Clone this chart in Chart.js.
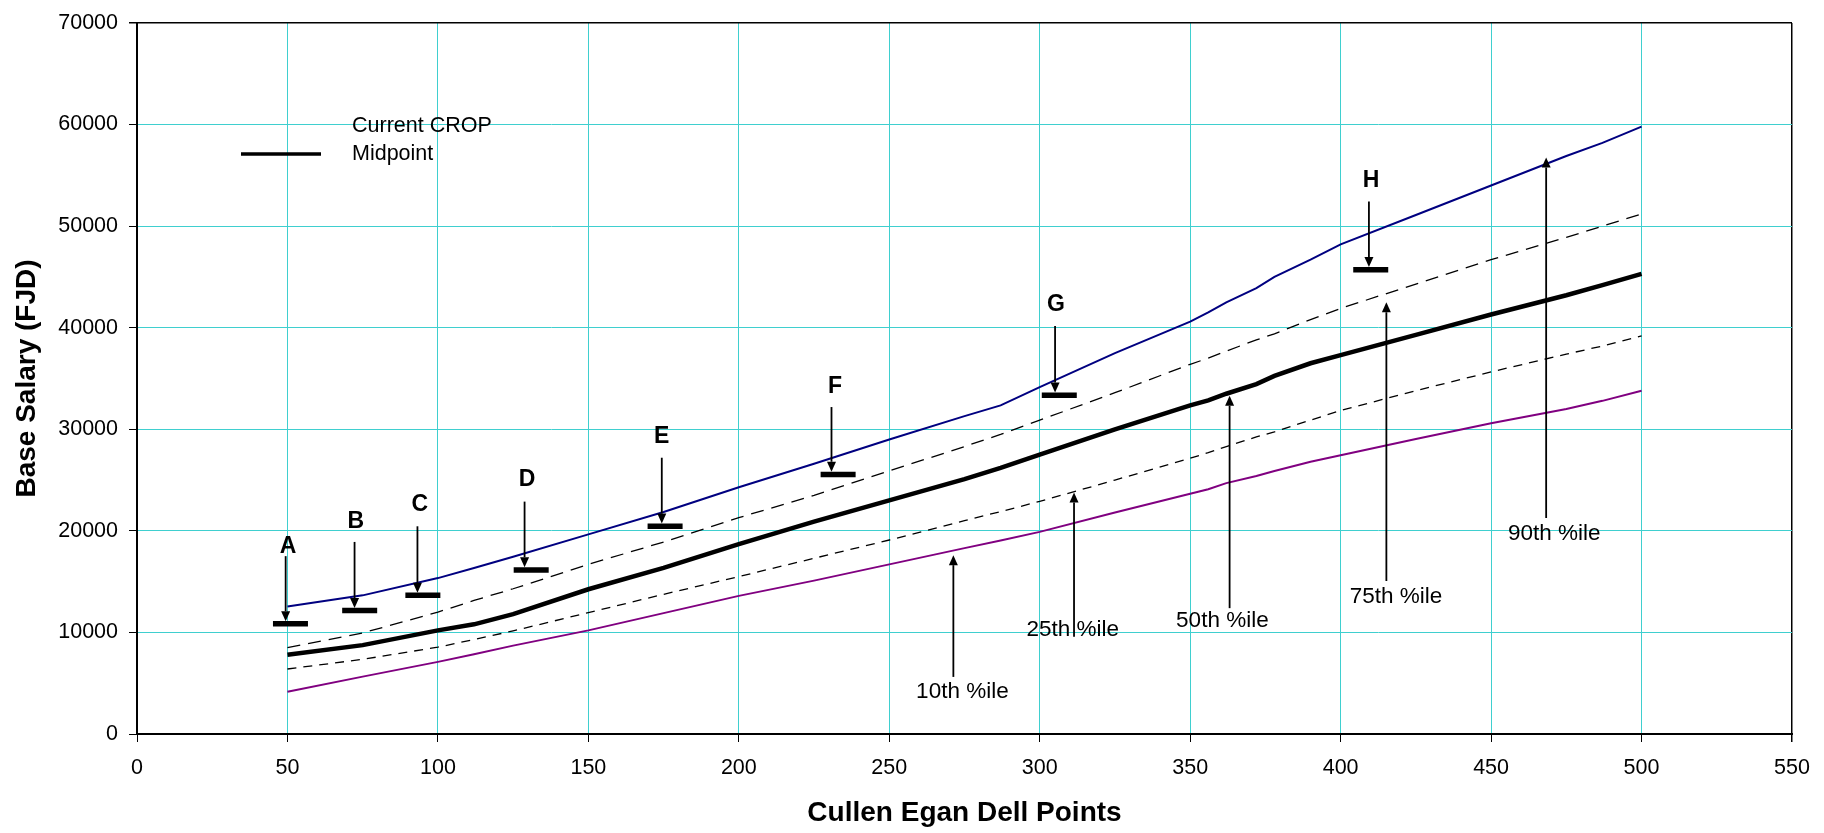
<!DOCTYPE html>
<html>
<head>
<meta charset="utf-8">
<title>Base Salary vs Cullen Egan Dell Points</title>
<script src="https://cdn.jsdelivr.net/npm/chart.js@4.4.1/dist/chart.umd.min.js"></script>
<style>
  html, body { margin: 0; padding: 0; background: #fff; }
  #wrap { width: 1824px; height: 833px; }
</style>
</head>
<body>
<div id="wrap"><canvas id="salaryChart" width="1824" height="833"></canvas></div>
<script>
/* ==========================
   DATA
========================== */
const points = [50, 75, 100, 112, 125, 150, 175, 200, 225, 250, 275, 287, 300, 325, 350, 356, 362, 372, 378, 390, 400, 425, 450, 475, 487, 500];

const p90 = [12550, 13650, 15350, 16350, 17450, 19650, 21850, 24300, 26600, 29000, 31300, 32350, 34150, 37500, 40600, 41500, 42500, 43900, 45000, 46700, 48200, 51100, 54000, 56900, 58200, 59800];
const p75 = [8500, 9950, 12000, 13150, 14300, 16700, 18900, 21300, 23500, 25900, 28300, 29500, 30900, 33600, 36400, 37000, 37700, 38800, 39400, 40800, 41900, 44300, 46700, 48900, 50000, 51200];
const p50 = [7800, 8750, 10200, 10800, 11800, 14250, 16350, 18700, 20900, 23000, 25100, 26200, 27500, 30000, 32350, 32850, 33500, 34450, 35250, 36500, 37300, 39300, 41300, 43200, 44200, 45300];
const p25 = [6400, 7350, 8550, 9300, 10150, 11950, 13750, 15500, 17300, 19100, 21000, 21900, 22900, 25000, 27150, 27700, 28300, 29250, 29750, 30900, 31850, 33800, 35650, 37400, 38200, 39200];
const p10 = [4150, 5650, 7100, 7850, 8700, 10200, 11900, 13600, 15100, 16700, 18300, 19050, 19900, 21800, 23650, 24100, 24700, 25400, 25900, 26800, 27450, 29050, 30600, 32000, 32800, 33800];

/* current CROP midpoints (grades A..H) */
const cropNames = ["A", "B", "C", "D", "E", "F", "G", "H"];
const cropX = [51, 74, 95, 131, 175.5, 233, 306.5, 410];
const cropY = [10850, 12150, 13650, 16150, 20450, 25550, 33350, 45700];

const xTicks = { min: 0, max: 550, step: 50 };
const yTicks = { min: 0, max: 70000, step: 10000 };

/* ==========================
   ANNOTATIONS (data coords)
========================== */
const letterX = [50.2, 72.7, 94, 129.6, 174.4, 232, 305.4, 410.1];
const letterY = [18400, 20940, 22570, 25050, 29260, 34150, 42300, 54470];
const letterArrowX = [49.4, 72.3, 93.2, 128.8, 174.4, 230.8, 305.1, 409.4];
const letterArrowFrom = [17510, 18910, 20450, 22880, 27200, 32190, 40180, 52420];
const letterArrowTo = [11100, 12400, 13900, 16420, 20720, 25820, 33620, 45970];

const pctNames = ["10th %ile", "25th %ile", "50th %ile", "75th %ile", "90th %ile"];
const pctLabelX = [274.3, 311, 360.7, 418.4, 471];
const pctLabelY = [4150, 10290, 11100, 13530, 19700];
const pctArrowX = [271.3, 311.4, 363.1, 415.2, 468.3];
const pctArrowFrom = [5620, 9580, 12390, 15070, 21260];
const pctArrowTo = [17610, 23770, 33300, 42500, 56750];

/* ==========================
   STYLE
========================== */
const FONT = 'Arial, "Liberation Sans", Helvetica, sans-serif';
const GRID = "#3fcfcf";

Chart.defaults.font.family = FONT;
Chart.defaults.color = "#000";

const toXY = (xs, ys) => xs.map((x, i) => ({ x: x, y: ys[i] }));

function drawArrow(ctx, x, y1, y2) {
  const dir = y2 > y1 ? 1 : -1;
  const head = 10, half = 4.5;
  ctx.beginPath();
  ctx.moveTo(x, y1);
  ctx.lineTo(x, y2 - dir * head);
  ctx.stroke();
  ctx.beginPath();
  ctx.moveTo(x, y2);
  ctx.lineTo(x - half, y2 - dir * head);
  ctx.lineTo(x + half, y2 - dir * head);
  ctx.closePath();
  ctx.fill();
}

/* arrows + labels */
const annotatePlugin = {
  id: "annotate",
  afterDatasetsDraw(chart) {
    const { ctx, scales: { x, y } } = chart;
    ctx.save();
    ctx.strokeStyle = "#000";
    ctx.fillStyle = "#000";
    ctx.lineWidth = 1.8;

    letterX.forEach((lx, i) => {
      const ax = x.getPixelForValue(letterArrowX[i]);
      drawArrow(ctx, ax, y.getPixelForValue(letterArrowFrom[i]), y.getPixelForValue(letterArrowTo[i]));
    });
    pctNames.forEach((n, i) => {
      const ax = x.getPixelForValue(pctArrowX[i]);
      drawArrow(ctx, ax, y.getPixelForValue(pctArrowFrom[i]), y.getPixelForValue(pctArrowTo[i]));
    });

    ctx.textAlign = "center";
    ctx.textBaseline = "middle";
    ctx.font = "bold 23px " + FONT;
    cropNames.forEach((n, i) => {
      ctx.fillText(n, x.getPixelForValue(letterX[i]), y.getPixelForValue(letterY[i]));
    });
    ctx.font = "22.5px " + FONT;
    pctNames.forEach((n, i) => {
      ctx.fillText(n, x.getPixelForValue(pctLabelX[i]), y.getPixelForValue(pctLabelY[i]));
    });
    ctx.restore();
  }
};

/* legend box inside the plot */
const legendPlugin = {
  id: "cropLegend",
  afterDraw(chart) {
    const { ctx, chartArea: a } = chart;
    ctx.save();
    ctx.strokeStyle = "#000";
    ctx.lineWidth = 3.7;
    ctx.beginPath();
    ctx.moveTo(a.left + 104, a.top + 131);
    ctx.lineTo(a.left + 184, a.top + 131);
    ctx.stroke();
    ctx.fillStyle = "#000";
    ctx.font = "21.5px " + FONT;
    ctx.textAlign = "left";
    ctx.textBaseline = "middle";
    ctx.fillText("Current CROP", a.left + 215, a.top + 103);
    ctx.fillText("Midpoint", a.left + 215, a.top + 131);
    ctx.restore();
  }
};

/* ==========================
   CHART
========================== */
const lineDs = (label, ys, color, width, dash) => ({
  label: label,
  data: toXY(points, ys),
  borderColor: color,
  borderWidth: width,
  borderDash: dash || [],
  pointRadius: 0,
  tension: 0,
  fill: false
});

new Chart(document.getElementById("salaryChart"), {
  type: "line",
  data: {
    datasets: [
      lineDs("90th %ile", p90, "#000080", 2),
      lineDs("75th %ile", p75, "#000", 1.3, [13, 8]),
      lineDs("25th %ile", p25, "#000", 1.3, [9, 7]),
      lineDs("10th %ile", p10, "#800080", 2),
      lineDs("50th %ile", p50, "#000", 4.5),
      {
        label: "Current CROP Midpoint",
        data: toXY(cropX, cropY),
        showLine: false,
        pointStyle: "line",
        pointRadius: 17.5,
        pointHoverRadius: 17.5,
        pointBorderWidth: 5.5,
        borderColor: "#000",
        backgroundColor: "#000"
      }
    ]
  },
  options: {
    responsive: false,
    animation: false,
    devicePixelRatio: 1,
    layout: { padding: { left: 0, right: 32, top: 18, bottom: 0 } },
    plugins: {
      legend: { display: false },
      tooltip: { enabled: false }
    },
    scales: {
      x: {
        type: "linear",
        min: xTicks.min,
        max: xTicks.max,
        ticks: {
          stepSize: xTicks.step,
          padding: 13,
          font: { size: 21.5 },
          color: "#000",
          callback: v => v
        },
        grid: {
          color: c => (c.tick && c.tick.value === xTicks.max ? "#000" : GRID),
          lineWidth: c => (c.tick && c.tick.value === xTicks.max ? 1.5 : 1),
          tickColor: "#000",
          tickLength: 8
        },
        border: { color: "#000", width: 2 },
        title: {
          display: true,
          text: "Cullen Egan Dell Points",
          font: { size: 28, weight: "bold" },
          padding: { top: 0, bottom: 3 }
        },
        afterFit(s) {
          s.height = 99;
          s.paddingLeft = 0;
          s.paddingRight = 0;
        }
      },
      y: {
        type: "linear",
        min: yTicks.min,
        max: yTicks.max,
        ticks: {
          stepSize: yTicks.step,
          padding: 11,
          font: { size: 21.5 },
          color: "#000",
          callback: v => v
        },
        grid: {
          color: c => (c.tick && c.tick.value === yTicks.max ? "#000" : GRID),
          lineWidth: c => (c.tick && c.tick.value === yTicks.max ? 1.5 : 1),
          tickColor: "#000",
          tickLength: 8
        },
        border: { color: "#000", width: 2 },
        title: {
          display: true,
          text: "Base Salary (FJD)",
          font: { size: 28, weight: "bold" },
          padding: { top: 10, bottom: 0 }
        },
        afterFit(s) {
          s.width = 137;
          s.paddingTop = 0;
          s.paddingBottom = 0;
        }
      }
    }
  },
  plugins: [annotatePlugin, legendPlugin]
});
</script>
</body>
</html>
